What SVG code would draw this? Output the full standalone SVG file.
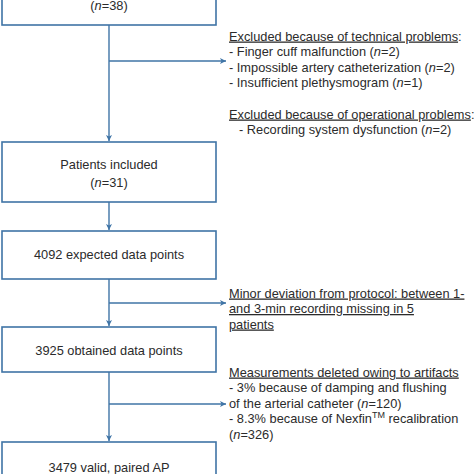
<svg xmlns="http://www.w3.org/2000/svg" width="474" height="474" viewBox="0 0 474 474">
<style>
.box{fill:#fff;stroke:#3f74a6;stroke-width:1.6}
.ln{fill:none;stroke:#3f74a6;stroke-width:1.4}
text{font-family:"Liberation Sans",Arial,sans-serif;font-size:12.8px;fill:#2b2b2b}
.c{text-anchor:middle}
.u{text-decoration:underline}
.i{font-style:italic}
</style>
<defs>
<marker id="ah" markerWidth="8" markerHeight="8" refX="6" refY="3" orient="auto" markerUnits="userSpaceOnUse">
<path d="M0,0 L6,3 L0,6 L1.5,3 Z" fill="#3f74a6"/>
</marker>
</defs>
<rect width="474" height="474" fill="#fff"/>
<g id="connectors">
<line class="ln" x1="109" y1="25" x2="109" y2="141" marker-end="url(#ah)"/>
<line class="ln" x1="109" y1="61" x2="226" y2="61" marker-end="url(#ah)"/>
<line class="ln" x1="109" y1="202" x2="109" y2="230" marker-end="url(#ah)"/>
<line class="ln" x1="109" y1="279" x2="109" y2="326" marker-end="url(#ah)"/>
<line class="ln" x1="109" y1="303" x2="226" y2="303" marker-end="url(#ah)"/>
<line class="ln" x1="109" y1="372" x2="109" y2="441" marker-end="url(#ah)"/>
<line class="ln" x1="109" y1="404" x2="226" y2="404" marker-end="url(#ah)"/>
</g>
<g id="n1">
<rect class="box" x="2" y="-40" width="214" height="65"/>
<text class="c" x="109" y="9.5">(<tspan class="i">n</tspan>=38)</text>
</g>
<g id="n2">
<rect class="box" x="2" y="142" width="214" height="60"/>
<text class="c" x="109" y="168.5">Patients included</text>
<text class="c" x="109" y="186.5">(<tspan class="i">n</tspan>=31)</text>
</g>
<g id="n3">
<rect class="box" x="2" y="231" width="214" height="48"/>
<text class="c" x="109" y="258.5">4092 expected data points</text>
</g>
<g id="n4">
<rect class="box" x="2" y="327" width="214" height="45"/>
<text class="c" x="109" y="354.5">3925 obtained data points</text>
</g>
<g id="n5">
<rect class="box" x="2" y="442" width="214" height="60"/>
<text class="c" x="109" y="471.5">3479 valid, paired AP</text>
</g>
<g id="excl-technical">
<text x="229" y="40.5"><tspan class="u">Excluded because of technical problems</tspan>:</text>
<text x="229" y="56">- Finger cuff malfunction (<tspan class="i">n</tspan>=2)</text>
<text x="229" y="71.5">- Impossible artery catheterization (<tspan class="i">n</tspan>=2)</text>
<text x="229" y="87">- Insufficient plethysmogram (<tspan class="i">n</tspan>=1)</text>
</g>
<g id="excl-operational">
<text x="229" y="118.5"><tspan class="u">Excluded because of operational problems</tspan>:</text>
<text x="239" y="134">- Recording system dysfunction (<tspan class="i">n</tspan>=2)</text>
</g>
<g id="minor-deviation">
<text x="229" y="297.5" class="u">Minor deviation from protocol: between 1-</text>
<text x="229" y="313" class="u">and 3-min recording missing in 5</text>
<text x="229" y="328.5" class="u">patients</text>
</g>
<g id="artifacts">
<text x="229" y="376.5" class="u">Measurements deleted owing to artifacts</text>
<text x="229" y="392">- 3% because of damping and flushing</text>
<text x="229" y="407.5">of the arterial catheter (<tspan class="i">n</tspan>=120)</text>
<text x="229" y="423">- 8.3% because of Nexfin<tspan font-size="9" dy="-5">TM</tspan><tspan dy="5"> recalibration</tspan></text>
<text x="229" y="439">(<tspan class="i">n</tspan>=326)</text>
</g>
</svg>
